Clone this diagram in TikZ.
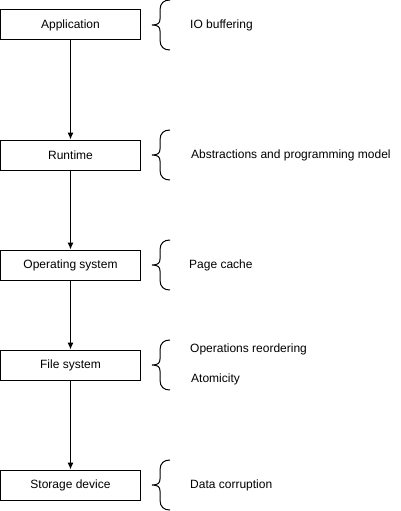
\documentclass[tikz,border=0pt]{standalone}
\usepackage{fontspec}
\setmainfont{Liberation Sans}
\usetikzlibrary{arrows.meta}
\begin{document}
\begin{tikzpicture}[x=1pt,y=-1pt,
  layer/.style={draw,line width=1pt,minimum width=140pt,minimum height=30pt,inner sep=0pt,font=\fontsize{12}{14}\selectfont},
  note/.style={anchor=west,inner sep=0pt,font=\fontsize{12}{14}\selectfont},
  flow/.style={-{Latex[length=7pt,width=6pt]},line width=1pt},
  brace/.style={line width=1pt}]
\useasboundingbox (0,0) rectangle (401,511);
\node[layer] (app) at (70.5,25) {Application};
\node[layer] (rt) at (70.5,155) {Runtime};
\node[layer] (os) at (70.5,265) {Operating system};
\node[layer] (fs) at (70.5,365) {File system};
\node[layer] (sd) at (70.5,485) {Storage device};
\draw[flow] (app) -- (rt);
\draw[flow] (rt) -- (os);
\draw[flow] (os) -- (fs);
\draw[flow] (fs) -- (sd);
\foreach \n/\c in {b1/25,b2/155,b3/265,b4/365,b5/485}{
  \coordinate (\n) at (152,\c);
  \draw[brace] (170,\c-25) .. controls (164,\c-25) and (160,\c-22) .. (160,\c-15)
     -- (160,\c-6) .. controls (160,\c-2) and (158,\c) .. (\n)
     .. controls (158,\c) and (160,\c+2) .. (160,\c+6)
     -- (160,\c+15) .. controls (160,\c+22) and (164,\c+25) .. (170,\c+25);
}
\node[note] (t1) at (190,25) {IO buffering};
\node[note] (t2) at (191,155) {Abstractions and programming model};
\node[note] (t3) at (189,265) {Page cache};
\node[note] (t4) at (190,349) {Operations reordering};
\node[note] (t5) at (191,379) {Atomicity};
\node[note] (t6) at (190,485) {Data corruption};
\end{tikzpicture}
\end{document}
